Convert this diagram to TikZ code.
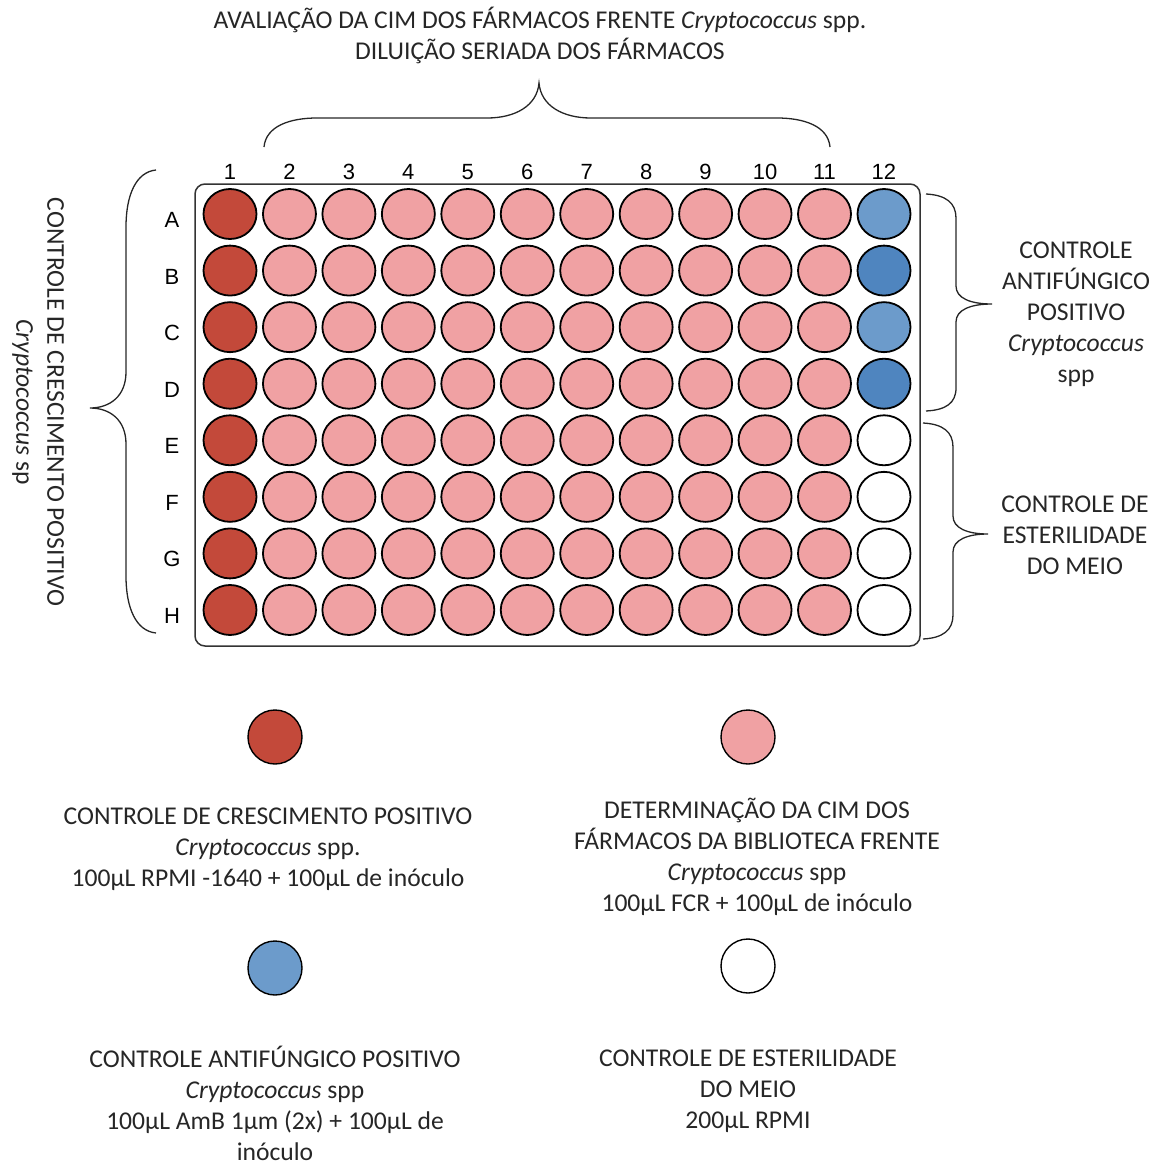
\documentclass[tikz,border=0pt]{standalone}
\usepackage{fontspec}
\setmainfont{Carlito}
\newfontfamily\arialf{Liberation Sans}
\usetikzlibrary{shapes.geometric}
\definecolor{wred}{HTML}{C3493A}
\definecolor{wpink}{HTML}{F0A1A3}
\definecolor{wblueL}{HTML}{6C9BCB}
\definecolor{wblueD}{HTML}{4F85BF}
\definecolor{plateline}{HTML}{333333}
\begin{document}
\begin{tikzpicture}[x=1pt,y=-1pt,
  well/.style={ellipse,draw=black,line width=1.8pt,minimum width=53pt,minimum height=50pt,inner sep=0pt},
  legwell/.style={circle,draw=black,line width=1.4pt,minimum size=54pt,inner sep=0pt},
  lbl/.style={font=\arialf\fontsize{22}{26}\selectfont,inner sep=0pt},
  txt/.style={font=\fontsize{25.6}{31}\selectfont,align=center,inner sep=0pt,text=black!85},
  bracel/.style={draw=black!85,line width=1.3pt}]
\useasboundingbox (0,0) rectangle (1168,1162);
% plate
\node[draw=plateline,line width=1.5pt,rounded corners=10pt,minimum width=725pt,minimum height=462pt,inner sep=0pt] (plate) at (557.5,415) {};
% column labels
\foreach \c in {1,...,12}{
  \node[lbl] (c\c) at ({230+(\c-1)*59.45},172) {\c};
}
% row labels and wells
\foreach \r [count=\i] in {A,B,C,D,E,F,G,H}{
  \node[lbl] (r\r) at (172,{220+(\i-1)*56.57}) {\r};
  \node[well,fill=wred] (w\r1) at (230,{214+(\i-1)*56.57}) {};
  \foreach \c in {2,...,11}{
    \node[well,fill=wpink] (w\r\c) at ({230+(\c-1)*59.45},{214+(\i-1)*56.57}) {};
  }
}
\node[well,fill=wblueL] (wA12) at (884,214) {};
\node[well,fill=wblueD] (wB12) at (884,270.57) {};
\node[well,fill=wblueL] (wC12) at (884,327.14) {};
\node[well,fill=wblueD] (wD12) at (884,383.71) {};
\node[well,fill=white] (wE12) at (884,440.28) {};
\node[well,fill=white] (wF12) at (884,496.85) {};
\node[well,fill=white] (wG12) at (884,553.42) {};
\node[well,fill=white] (wH12) at (884,610) {};
% braces
\draw[bracel] (264,147) .. controls (266,126) and (290,118) .. (317,118) -- (487,118)
  .. controls (515,118) and (537,106) .. (539,83)
  .. controls (541,106) and (563,118) .. (591,118) -- (777,118)
  .. controls (804,118) and (828,126) .. (830,147);
\draw[bracel] (156,170) .. controls (136,172) and (126,195) .. (126,227) -- (126,372)
  .. controls (126,396) and (110,408) .. (90,408)
  .. controls (110,408) and (126,420) .. (126,444) -- (126,576)
  .. controls (126,608) and (136,631) .. (156,633);
\draw[bracel] (926,194) .. controls (946,195) and (956,203) .. (956,218) -- (956,286)
  .. controls (956,298) and (970,304) .. (992,304)
  .. controls (970,304) and (956,310) .. (956,322) -- (956,388)
  .. controls (956,403) and (946,410) .. (926,411);
\draw[bracel] (923,423) .. controls (943,424) and (953,432) .. (953,447) -- (953,516)
  .. controls (953,528) and (967,534) .. (988,534)
  .. controls (967,534) and (953,540) .. (953,552) -- (953,615)
  .. controls (953,630) and (943,638) .. (923,639);
% texts
\node[txt] (title) at (540,35) {AVALIAÇÃO DA CIM DOS FÁRMACOS FRENTE \textit{Cryptococcus} spp.\\DILUIÇÃO SERIADA DOS FÁRMACOS};
\node[txt,rotate=-90] (lefttxt) at (38,402) {CONTROLE DE CRESCIMENTO POSITIVO\\\textit{Cryptococcus} sp};
\node[txt] (right1) at (1076,314) {CONTROLE\\ANTIFÚNGICO\\POSITIVO\\\textit{Cryptococcus}\\spp};
\node[txt] (right2) at (1075,535) {CONTROLE DE\\ESTERILIDADE\\DO MEIO};
% legend
\node[legwell,fill=wred] (leg1) at (275,737) {};
\node[legwell,fill=wpink] (leg2) at (748,737) {};
\node[legwell,fill=wblueL] (leg3) at (275,968) {};
\node[legwell,fill=white] (leg4) at (748,966) {};
\node[txt] (legt1) at (268,849) {CONTROLE DE CRESCIMENTO POSITIVO\\\textit{Cryptococcus} spp.\\100µL RPMI -1640 + 100µL de inóculo};
\node[txt] (legt2) at (757,856.5) {DETERMINAÇÃO DA CIM DOS\\FÁRMACOS DA BIBLIOTECA FRENTE\\\textit{Cryptococcus} spp\\100µL FCR + 100µL de inóculo};
\node[txt] (legt3) at (275,1103) {CONTROLE ANTIFÚNGICO POSITIVO\\\textit{Cryptococcus} spp\\100µL AmB 1µm (2x) + 100µL de\\inóculo};
\node[txt] (legt4) at (748,1091) {CONTROLE DE ESTERILIDADE\\DO MEIO\\200µL RPMI};
\end{tikzpicture}
\end{document}
